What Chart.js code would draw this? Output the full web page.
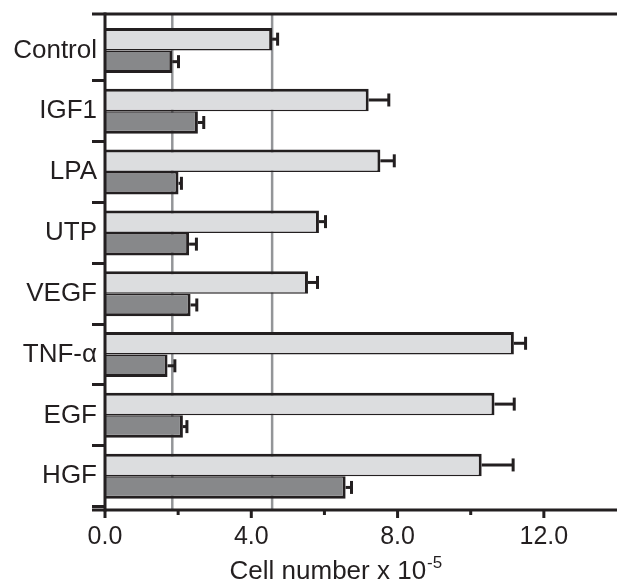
<!DOCTYPE html>
<html>
<head>
<meta charset="utf-8">
<script src="https://cdn.jsdelivr.net/npm/chart.js@4/dist/chart.umd.min.js"></script>
<style>
  html,body{margin:0;padding:0;background:#fff;}
  #wrap{width:617px;height:583px;position:relative;}
</style>
</head>
<body>
<div id="wrap"><canvas id="c"></canvas></div>
<script>
// 數據
const categories = ['Control','IGF1','LPA','UTP','VEGF','TNF-α','EGF','HGF'];
const lightVals = [4.57, 7.21, 7.53, 5.85, 5.55, 11.18, 10.65, 10.30];
const lightErr  = [0.15, 0.55, 0.38, 0.18, 0.26, 0.32, 0.54, 0.86];
const darkVals  = [1.84, 2.54, 2.01, 2.30, 2.34, 1.71, 2.13, 6.58];
const darkErr   = [0.17, 0.16, 0.08, 0.20, 0.17, 0.20, 0.11, 0.16];
const refLines  = [1.84, 4.57];
const majorTicks = [0, 4, 8, 12];
const minorTicks = [2, 6, 10];
const xTitle = 'Cell number x 10';
const xTitleSup = '-5';

const INK = '#231f20';
const FONT = '"Liberation Sans", Arial, Helvetica, sans-serif';
// 外框位置（略大於類別區）
const FRAME_TOP = 14, FRAME_BOTTOM = 510, AREA_TOP = 20, AREA_BOTTOM = 506.6;

// 參考線（在長條之前畫）
const refLinePlugin = {
  id:'refLines',
  beforeDatasetsDraw(chart){
    const {ctx, scales:{x}} = chart;
    ctx.save();
    ctx.strokeStyle = '#939598';
    ctx.lineWidth = 2.5;
    refLines.forEach(v=>{
      const px = x.getPixelForValue(v);
      ctx.beginPath(); ctx.moveTo(px, FRAME_TOP); ctx.lineTo(px, FRAME_BOTTOM); ctx.stroke();
    });
    ctx.restore();
  }
};

// 誤差線 + 外框 + 刻度 + 軸標題
const extrasPlugin = {
  id:'extras',
  afterDatasetsDraw(chart){
    const {ctx, scales:{x}} = chart;
    const errs = [lightErr, darkErr];
    ctx.save();
    ctx.strokeStyle = INK;
    ctx.lineWidth = 3;
    chart.data.datasets.forEach((ds, di)=>{
      const meta = chart.getDatasetMeta(di);
      meta.data.forEach((bar, i)=>{
        const x0 = x.getPixelForValue(ds.data[i]);
        const x1 = x.getPixelForValue(ds.data[i] + errs[di][i]);
        const y = bar.y;
        ctx.beginPath(); ctx.moveTo(x0, y); ctx.lineTo(x1, y); ctx.stroke();
        ctx.beginPath(); ctx.moveTo(x1, y-6.5); ctx.lineTo(x1, y+6.5); ctx.stroke();
      });
    });
    ctx.restore();
  },
  afterDraw(chart){
    const {ctx, chartArea:a, scales:{x}} = chart;
    ctx.save();
    ctx.strokeStyle = INK;
    ctx.lineWidth = 3;
    ctx.lineCap = 'butt';
    // 上框線 / 底軸 / 左軸
    ctx.beginPath(); ctx.moveTo(a.left-13, FRAME_TOP); ctx.lineTo(chart.width, FRAME_TOP); ctx.stroke();
    ctx.beginPath(); ctx.moveTo(a.left-13, FRAME_BOTTOM); ctx.lineTo(chart.width, FRAME_BOTTOM); ctx.stroke();
    ctx.beginPath(); ctx.moveTo(a.left, FRAME_TOP-1.5); ctx.lineTo(a.left, FRAME_BOTTOM+1.5); ctx.stroke();
    majorTicks.forEach(v=>{
      const px = x.getPixelForValue(v);
      ctx.beginPath(); ctx.moveTo(px, FRAME_BOTTOM); ctx.lineTo(px, FRAME_BOTTOM+8); ctx.stroke();
    });
    minorTicks.forEach(v=>{
      const px = x.getPixelForValue(v);
      ctx.beginPath(); ctx.moveTo(px, FRAME_BOTTOM); ctx.lineTo(px, FRAME_BOTTOM+5); ctx.stroke();
    });
    // 標題（含上標）
    ctx.fillStyle = INK;
    ctx.textBaseline = 'alphabetic';
    ctx.font = '26px ' + FONT;
    const w1 = ctx.measureText(xTitle).width;
    ctx.font = '17px ' + FONT;
    const w2 = ctx.measureText(xTitleSup).width;
    const cx = x.getPixelForValue(6.3);
    const sx = cx - (w1 + w2)/2;
    ctx.font = '26px ' + FONT;
    ctx.fillText(xTitle, sx, 579);
    ctx.font = '17px ' + FONT;
    ctx.fillText(xTitleSup, sx + w1 + 1, 568);
    ctx.restore();
  }
};

const nInner = categories.length;
new Chart(document.getElementById('c'), {
  type:'bar',
  data:{
    labels: categories,
    datasets:[
      {data: lightVals, backgroundColor:'#dcdddf', borderColor:INK,
        borderWidth:{top:3, right:3, bottom:1.5, left:0}, borderSkipped:'start'},
      {data: darkVals, backgroundColor:'#87888a', borderColor:INK,
        borderWidth:{top:1.5, right:3, bottom:3, left:0}, borderSkipped:'start'}
    ]
  },
  options:{
    indexAxis:'y',
    responsive:true,
    maintainAspectRatio:false,
    animation:false,
    layout:{padding:{top:AREA_TOP, right:0, left:0, bottom:0}},
    datasets:{bar:{categoryPercentage:0.74, barPercentage:1}},
    plugins:{legend:{display:false}, tooltip:{enabled:false}},
    scales:{
      x:{
        min:0, max:14,
        afterBuildTicks:(s)=>{ s.ticks = majorTicks.map(v=>({value:v})); },
        ticks:{padding:8, color:INK, font:{family:FONT, size:25},
          callback:(v)=>Number(v).toFixed(1)},
        grid:{display:false},
        border:{display:false},
        afterFit:(s)=>{ s.height = 583 - AREA_BOTTOM; s.paddingRight = 0; }
      },
      y:{
        ticks:{padding:-5, color:INK, font:{family:FONT, size:26}},
        grid:{drawOnChartArea:false, offset:true, tickLength:13, lineWidth:3,
          color:(c)=> (c.index===0 || c.index===nInner) ? 'rgba(0,0,0,0)' : INK},
        border:{display:false},
        afterFit:(s)=>{ s.width = 105; }
      }
    }
  },
  plugins:[refLinePlugin, extrasPlugin]
});
</script>
</body>
</html>
